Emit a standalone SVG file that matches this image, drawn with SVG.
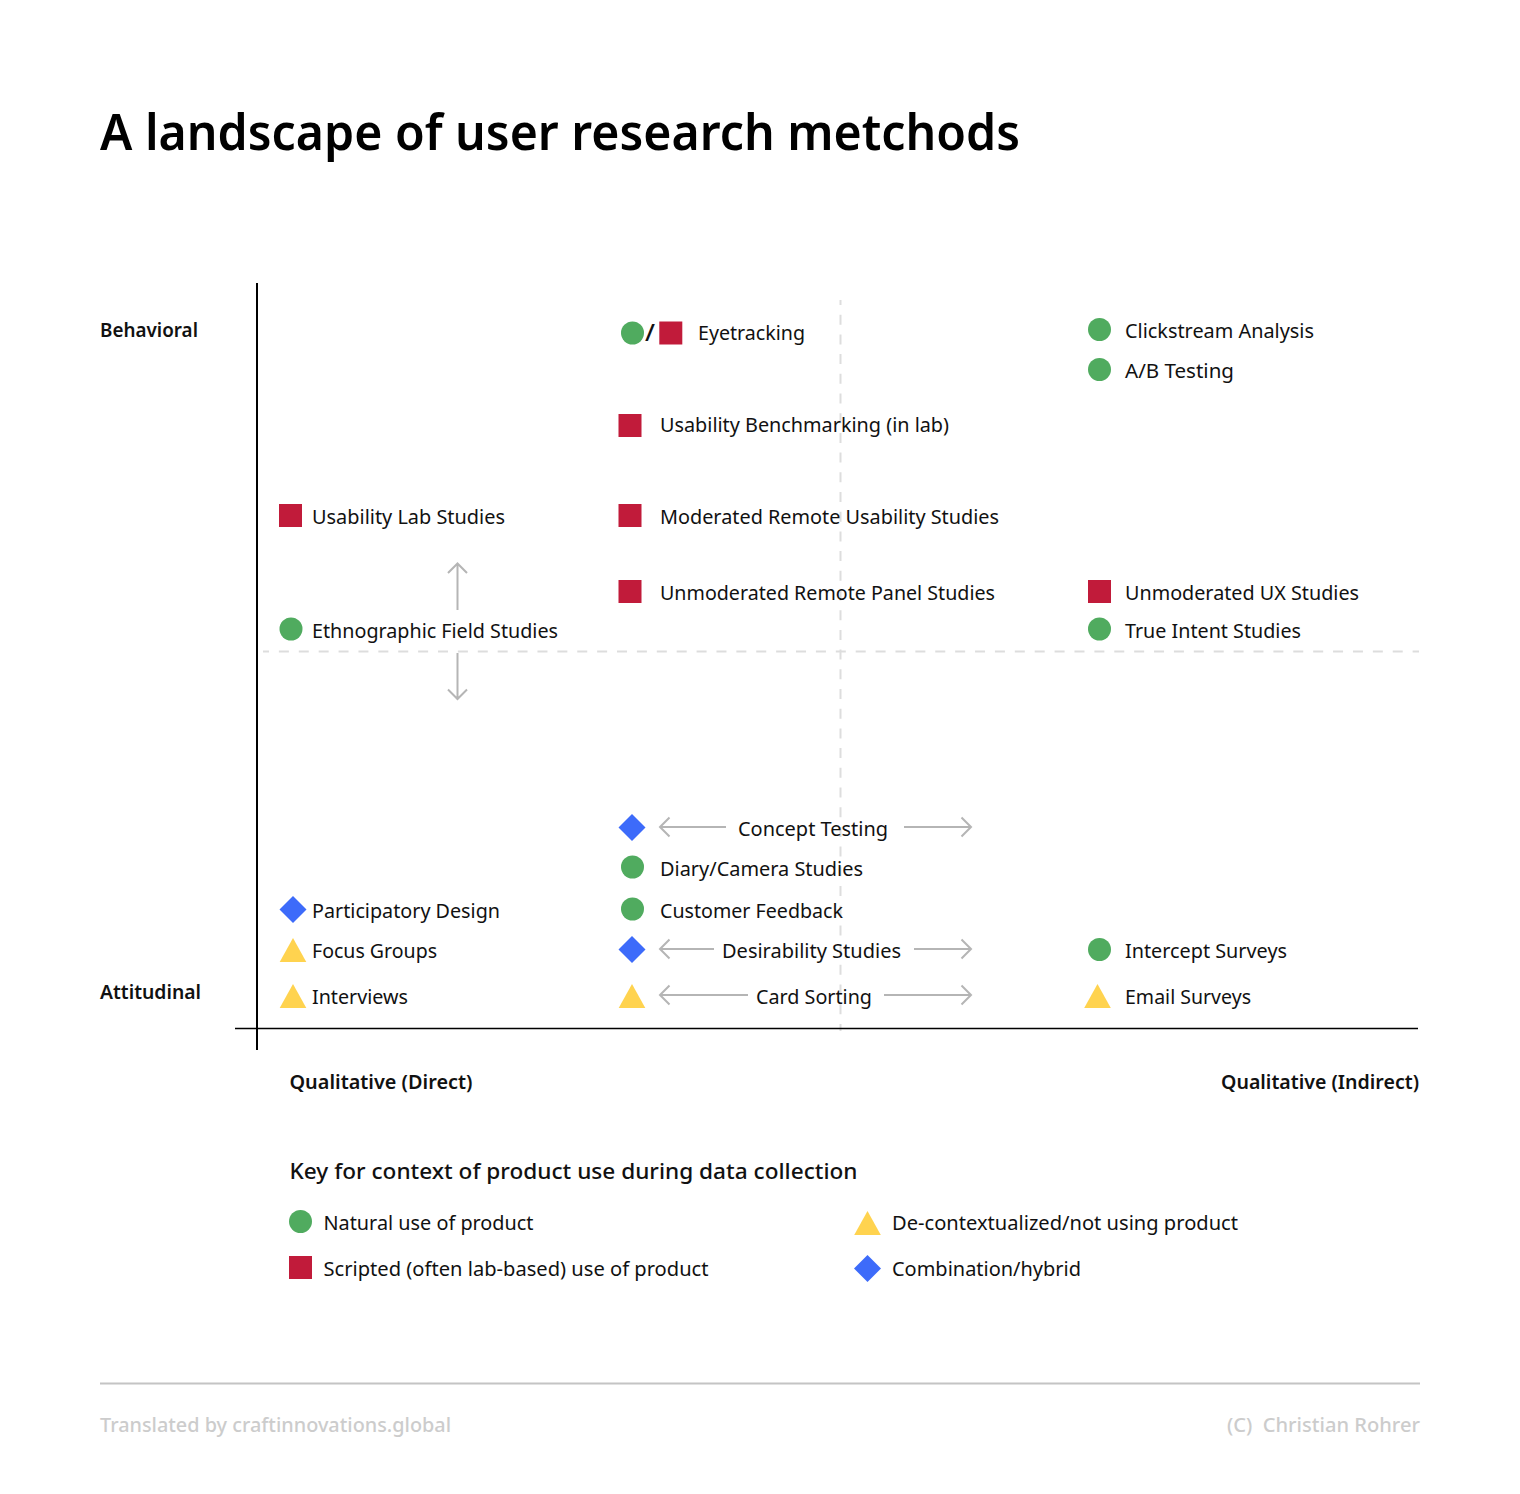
<svg xmlns="http://www.w3.org/2000/svg" width="1520" height="1494" viewBox="0 0 1520 1494">
<defs>
<style>
text{font-family:"Noto Sans","Open Sans",sans-serif;font-size:20px;fill:#111;}
.b{font-weight:600;font-size:19.500px;}
.t{font-size:51px;font-weight:600;fill:#000;}
.h{font-weight:500;font-size:22px;}
.f{fill:#ccc;font-size:20px;font-weight:500;}
.g{fill:#50ab5f}.r{fill:#c11b3a}.y{fill:#ffd34f}.d{fill:#3d6bfa}
.a{fill:none;stroke:#b5b5b5;stroke-width:2;}
.dh{stroke:#ddd;stroke-width:2;stroke-dasharray:10 9.890;stroke-dashoffset:4;fill:none;}
.dv{stroke:#ddd;stroke-width:2;stroke-dasharray:10 9.700;stroke-dashoffset:5;fill:none;}
</style>
<circle id="c" r="11.500" class="g"/>
<rect id="s" x="-11.500" y="-11.500" width="23" height="23" class="r"/>
<polygon id="m" points="0,-13.500 13.500,0 0,13.500 -13.500,0" class="d"/>
<polygon id="v" points="0,-12 13.300,12 -13.300,12" class="y"/>
</defs>
<rect width="1520" height="1494" fill="#fff"/>
<text class="t" x="100" y="150" textLength="920" lengthAdjust="spacingAndGlyphs">A landscape of user research metchods</text>
<g id="connectors">
<path class="dh" d="M263 651.500H1419"/>
<path class="dv" d="M840.500 300V1031"/>
<path d="M257 283V1050" stroke="#000" stroke-width="2" fill="none"/>
<path d="M235 1028.500H1418" stroke="#000" stroke-width="1.500" fill="none"/>
<path class="a" d="M457.500 610V564M448 573L457.500 563.500L467 573"/>
<path class="a" d="M457.500 653V699M448 689.500L457.500 699L467 689.500"/>
<path class="a" d="M726 827H660M669.500 817.500L660 827L669.500 836.500"/>
<path class="a" d="M904 827H971M961.500 817.500L971 827L961.500 836.500"/>
<path class="a" d="M714 949H660M669.500 939.500L660 949L669.500 958.500"/>
<path class="a" d="M914 949H971M961.500 939.500L971 949L961.500 958.500"/>
<path class="a" d="M748 995H660M669.500 985.500L660 995L669.500 1004.500"/>
<path class="a" d="M884 995H971M961.500 985.500L971 995L961.500 1004.500"/>
</g>
<g id="axis-labels">
<text class="b" x="100" y="337" textLength="98" lengthAdjust="spacingAndGlyphs">Behavioral</text>
<text class="b" x="100" y="999" textLength="101" lengthAdjust="spacingAndGlyphs">Attitudinal</text>
<text class="b" x="289.500" y="1089" textLength="183" lengthAdjust="spacingAndGlyphs">Qualitative (Direct)</text>
<text class="b" x="1221" y="1089" textLength="198" lengthAdjust="spacingAndGlyphs">Qualitative (Indirect)</text>
</g>
<g id="eyetracking"><use href="#c" x="632.500" y="333"/><text x="645" y="341" font-size="24" style="font-size:24px" font-weight="500" textLength="10" lengthAdjust="spacingAndGlyphs">/</text><use href="#s" x="670.800" y="333"/><text x="698" y="340" textLength="107" lengthAdjust="spacingAndGlyphs">Eyetracking</text></g>
<g id="clickstream"><use href="#c" x="1099.500" y="329.500"/><text x="1125" y="338" textLength="189" lengthAdjust="spacingAndGlyphs">Clickstream Analysis</text></g>
<g id="ab-testing"><use href="#c" x="1099.500" y="369.500"/><text x="1125" y="378" textLength="109" lengthAdjust="spacingAndGlyphs">A/B Testing</text></g>
<g id="usability-benchmarking"><use href="#s" x="630" y="425.500"/><text x="660" y="432" textLength="289" lengthAdjust="spacingAndGlyphs">Usability Benchmarking (in lab)</text></g>
<g id="usability-lab"><use href="#s" x="290.500" y="515.500"/><text x="312" y="524" textLength="193" lengthAdjust="spacingAndGlyphs">Usability Lab Studies</text></g>
<g id="moderated-remote"><use href="#s" x="630" y="515.500"/><text x="660" y="524" textLength="339" lengthAdjust="spacingAndGlyphs">Moderated Remote Usability Studies</text></g>
<g id="unmoderated-panel"><use href="#s" x="630" y="591.500"/><text x="660" y="600" textLength="335" lengthAdjust="spacingAndGlyphs">Unmoderated Remote Panel Studies</text></g>
<g id="unmoderated-ux"><use href="#s" x="1099.500" y="591.500"/><text x="1125" y="600" textLength="234" lengthAdjust="spacingAndGlyphs">Unmoderated UX Studies</text></g>
<g id="ethnographic"><use href="#c" x="291" y="629"/><text x="312" y="638" textLength="246" lengthAdjust="spacingAndGlyphs">Ethnographic Field Studies</text></g>
<g id="true-intent"><use href="#c" x="1099.500" y="629"/><text x="1125" y="638" textLength="176" lengthAdjust="spacingAndGlyphs">True Intent Studies</text></g>
<g id="concept-testing"><use href="#m" x="632" y="827.500"/><text x="738" y="836" textLength="150" lengthAdjust="spacingAndGlyphs">Concept Testing</text></g>
<g id="diary-camera"><use href="#c" x="632.500" y="867"/><text x="660" y="876" textLength="203" lengthAdjust="spacingAndGlyphs">Diary/Camera Studies</text></g>
<g id="customer-feedback"><use href="#c" x="632.500" y="909"/><text x="660" y="918" textLength="183" lengthAdjust="spacingAndGlyphs">Customer Feedback</text></g>
<g id="participatory-design"><use href="#m" x="293" y="909.500"/><text x="312" y="918" textLength="188" lengthAdjust="spacingAndGlyphs">Participatory Design</text></g>
<g id="focus-groups"><use href="#v" x="293" y="950"/><text x="312" y="958" textLength="125" lengthAdjust="spacingAndGlyphs">Focus Groups</text></g>
<g id="desirability"><use href="#m" x="632" y="949.500"/><text x="722" y="958" textLength="179" lengthAdjust="spacingAndGlyphs">Desirability Studies</text></g>
<g id="intercept-surveys"><use href="#c" x="1099.500" y="949.500"/><text x="1125" y="958" textLength="162" lengthAdjust="spacingAndGlyphs">Intercept Surveys</text></g>
<g id="interviews"><use href="#v" x="293" y="996"/><text x="312" y="1004" textLength="96" lengthAdjust="spacingAndGlyphs">Interviews</text></g>
<g id="card-sorting"><use href="#v" x="632" y="996"/><text x="756" y="1004" textLength="116" lengthAdjust="spacingAndGlyphs">Card Sorting</text></g>
<g id="email-surveys"><use href="#v" x="1097.500" y="996"/><text x="1125" y="1004" textLength="126" lengthAdjust="spacingAndGlyphs">Email Surveys</text></g>
<g id="key">
<text class="h" x="289.500" y="1179" textLength="568" lengthAdjust="spacingAndGlyphs">Key for context of product use during data collection</text>
<g id="key-natural"><use href="#c" x="300.500" y="1221.500"/><text x="323.500" y="1230" textLength="210" lengthAdjust="spacingAndGlyphs">Natural use of product</text></g>
<g id="key-scripted"><use href="#s" x="300.500" y="1267.500"/><text x="323.500" y="1276" textLength="385" lengthAdjust="spacingAndGlyphs">Scripted (often lab-based) use of product</text></g>
<g id="key-decontext"><use href="#v" x="867.500" y="1223"/><text x="892" y="1230" textLength="346" lengthAdjust="spacingAndGlyphs">De-contextualized/not using product</text></g>
<g id="key-combination"><use href="#m" x="867.500" y="1268.500"/><text x="892" y="1276" textLength="189" lengthAdjust="spacingAndGlyphs">Combination/hybrid</text></g>
</g>
<g id="footer">
<path d="M100 1383.500H1420" stroke="#c4c4c4" stroke-width="2" fill="none"/>
<text class="f" x="100" y="1432" textLength="351" lengthAdjust="spacingAndGlyphs">Translated by craftinnovations.global</text>
<text class="f" x="1227" y="1432" textLength="193" lengthAdjust="spacingAndGlyphs">(C)&#160;&#160;Christian Rohrer</text>
</g>
</svg>
